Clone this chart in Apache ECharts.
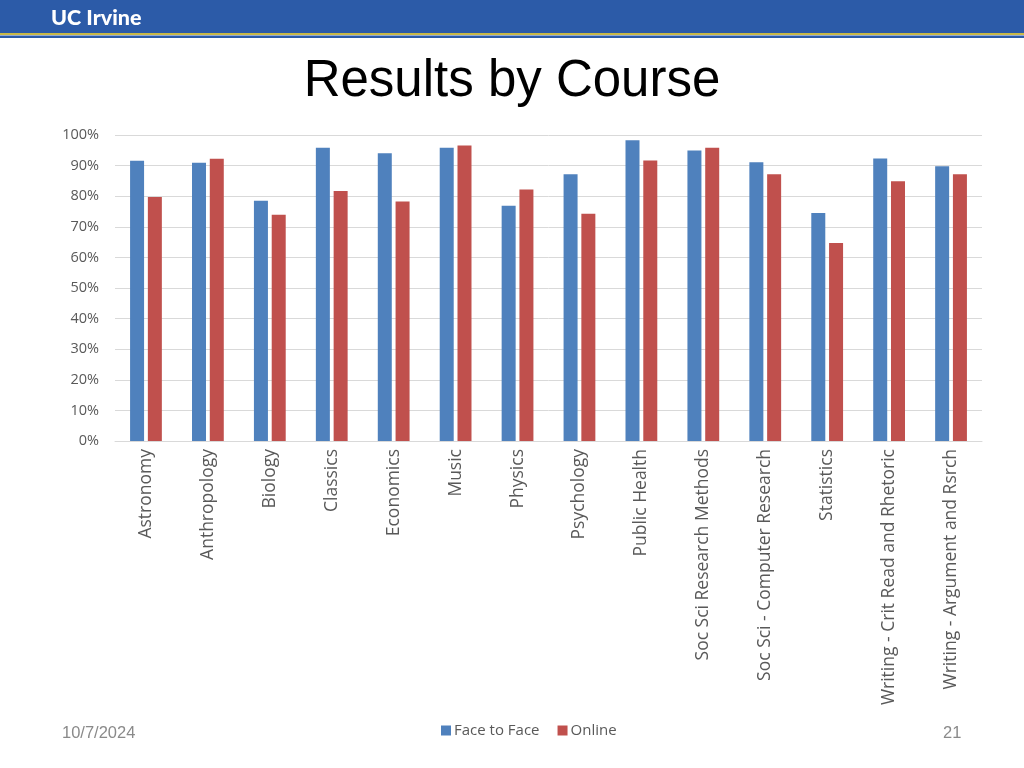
<!DOCTYPE html>
<html>
<head>
<meta charset="utf-8">
<script src="https://cdn.jsdelivr.net/npm/echarts@6/dist/echarts.min.js"></script>
<style>
html,body{margin:0;padding:0;background:#fff;}
#chart{width:1024px;height:768px;}
</style>
</head>
<body>
<div id="chart"></div>
<script>
const categories = ["Astronomy","Anthropology","Biology","Classics","Economics","Music","Physics","Psychology","Public Health","Soc Sci Research Methods","Soc Sci - Computer Research","Statistics","Writing - Crit Read and Rhetoric","Writing - Argument and Rsrch"];
const faceToFace = [91.6, 90.9, 78.5, 95.8, 94.0, 95.8, 76.9, 87.2, 98.3, 94.9, 91.1, 74.5, 92.3, 89.8];
const online = [79.7, 92.2, 73.9, 81.7, 78.3, 96.6, 82.2, 74.3, 91.7, 95.8, 87.2, 64.7, 84.9, 87.2];
const yTicks = [0, 10, 20, 30, 40, 50, 60, 70, 80, 90, 100];

const chart = echarts.init(document.getElementById('chart'));
chart.setOption({
  animation: false,
  backgroundColor: '#ffffff',
  title: {
    text: 'Results by Course',
    left: 'center',
    top: 51,
    textStyle: {fontFamily: 'Liberation Sans, Arial', fontSize: 51, fontWeight: 'normal', color: '#000'}
  },
  graphic: [
    {type: 'rect', left: 0, top: 0, shape: {width: 1024, height: 33}, style: {fill: '#2c5ba8'}, silent: true},
    {type: 'rect', left: 0, top: 33, shape: {width: 1024, height: 2}, style: {fill: '#c9b948'}, silent: true},
    {type: 'rect', left: 0, top: 35.5, shape: {width: 1024, height: 2.5}, style: {fill: '#2c5ba8'}, silent: true},
    {type: 'text', left: 51, top: 7, style: {text: 'UC Irvine', fill: '#fff', font: '900 21.5px Lato, "Open Sans", sans-serif'}, silent: true},
    {type: 'text', left: 62, top: 725, style: {text: '10/7/2024', fill: '#8a8a8a', font: '16.5px "Liberation Sans", Arial, sans-serif'}, silent: true},
    {type: 'text', left: 943, top: 725, style: {text: '21', fill: '#8a8a8a', font: '16.5px "Liberation Sans", Arial, sans-serif'}, silent: true}
  ],
  legend: {
    top: 718,
    left: 436,
    itemWidth: 10,
    itemHeight: 10,
    itemGap: 18,
    icon: 'rect',
    textStyle: {fontFamily: 'Open Sans, Noto Sans, sans-serif', fontSize: 15, color: '#595959', padding: [0, 0, 0, -2]},
    data: ['Face to Face', 'Online']
  },
  grid: {left: 115, right: 42, top: 135, bottom: 327, containLabel: false},
  xAxis: {
    type: 'category',
    data: categories,
    axisLine: {show: true, lineStyle: {color: '#d9d9d9'}},
    axisTick: {show: false},
    axisLabel: {rotate: 90, interval: 0, fontFamily: 'Open Sans, Noto Sans, sans-serif', fontSize: 17.5, color: '#595959', margin: 8}
  },
  yAxis: {
    type: 'value',
    min: 0,
    max: 100,
    interval: 10,
    axisLine: {show: false},
    axisTick: {show: false},
    splitLine: {lineStyle: {color: '#d9d9d9'}},
    axisLabel: {
      fontFamily: 'Open Sans, Noto Sans, sans-serif', fontSize: 14.5, color: '#595959', margin: 16,
      formatter: v => (yTicks.includes(v) ? v + '%' : '')
    }
  },
  series: [
    {name: 'Face to Face', type: 'bar', data: faceToFace, barWidth: 14, barGap: '27%', itemStyle: {color: '#4f81bd'}},
    {name: 'Online', type: 'bar', data: online, barWidth: 14, itemStyle: {color: '#c0504d'}}
  ]
});
</script>
</body>
</html>
